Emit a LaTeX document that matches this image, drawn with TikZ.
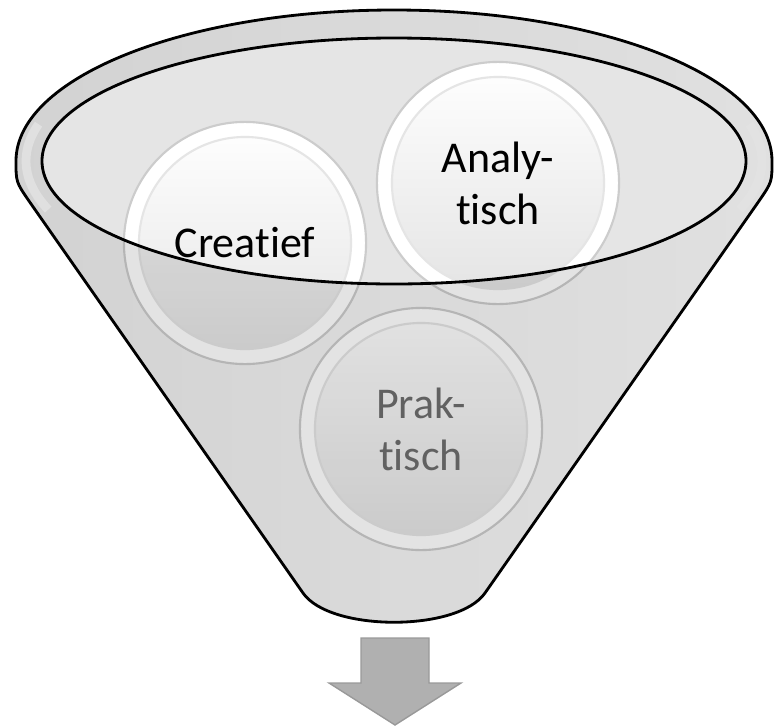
\documentclass[tikz,border=0pt]{standalone}
\usepackage{fontspec}
\usepackage{xcolor}
\usepackage{tikz}
\usetikzlibrary{positioning}
\newfontfamily\labelfont[Ligatures=NoCommon]{Carlito}
\newcommand\bubblefont{\labelfont\fontsize{12.5pt}{14.8pt}\selectfont}
% outline of the funnel (top rim, two sides, rounded bottom)
\newcommand\funnelpath{(303,133) -- (29,525) .. controls (16,544) .. (16,565)
    arc[start angle=180, end angle=0, x radius=378, y radius=151]
    .. controls (772,544) .. (759,525) -- (485,133)
    .. controls (458,94) and (330,94) .. (303,133) -- cycle}
\begin{document}
\begin{tikzpicture}[
    % GLOBAL CFG
    x=0.01cm, y=0.01cm,
    % Styles
    bubble/.style={% For the three round items
        circle,
        draw=gray!40,
        line width=0.6pt,
        minimum size=2.42cm,
        inner sep=0pt,
        align=center,
        font=\bubblefont,
        fill=white,
        path picture={
            \shade[top color=white, middle color=white!98!gray, bottom color=gray!22]
                (path picture bounding box.center) circle (1.06cm);
            \draw[gray!20] (path picture bounding box.center) circle (1.06cm);
            },
        },
    funnelline/.style={% For the black outlines
        line width=0.8pt,
        black,
        },
    glare/.style={% White highlight on the rim
        white,
        line width=2.5pt,
        opacity=0.85,
        },
    ]
    \useasboundingbox (0,0) rectangle (775,726);

    % Body of the funnel and its opening
    \shade[left color=gray!14, right color=gray!2] \funnelpath;
    \fill[gray!20] (394,565) ellipse[x radius=352, y radius=123];
    \draw[glare] (394,565) ++(165:368 and 142) arc[start angle=165, end angle=200, x radius=368, y radius=142];
    \draw[glare] (394,565) ++(-20:368 and 142) arc[start angle=-20, end angle=15, x radius=368, y radius=142];

    % The three items
    \node[bubble] (creatief) at (245,483) {Creatief};
    \node[bubble] (analytisch) at (498,543) {Analy-\\tisch};
    \node[bubble, text=black!57] (praktisch) at (421,297) {Prak-\\tisch};

    % Front of the funnel over the items
    \fill[black, opacity=0.11, even odd rule] \funnelpath (394,565) ellipse[x radius=352, y radius=123];
    \draw[funnelline] \funnelpath;
    \draw[funnelline] (394,565) ellipse[x radius=352, y radius=123];

    % Outlet arrow
    \filldraw[fill=gray!62, draw=gray!80, line width=0.4pt]
        (361,88) -- (429,88) -- (429,43) -- (461,43) -- (395,1) -- (329,43) -- (361,43) -- cycle;
\end{tikzpicture}
\end{document}
